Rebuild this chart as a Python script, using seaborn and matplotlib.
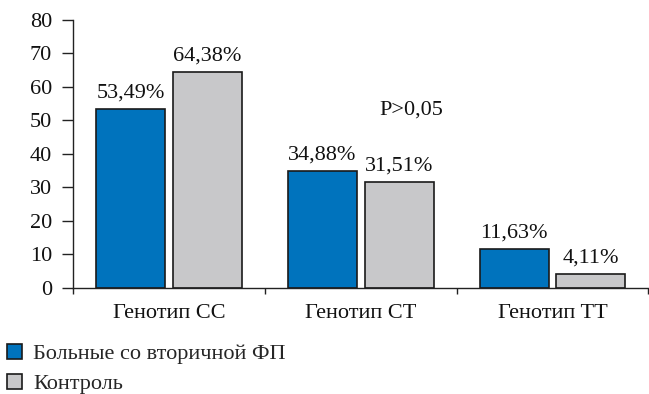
import matplotlib
matplotlib.use("Agg")
import matplotlib.pyplot as plt
import seaborn as sns
import pandas as pd

categories = ["Генотип CC", "Генотип CT", "Генотип TT"]
groups = ["Больные со вторичной ФП", "Контроль"]
patients = [53.49, 34.88, 11.63]
control = [64.38, 31.51, 4.11]
y_ticks = [0, 10, 20, 30, 40, 50, 60, 70, 80]
p_text = "P>0,05"

colors = ["#0073BD", "#C8C8CA"]

df = pd.DataFrame({
    "cat": categories * 2,
    "group": [groups[0]] * 3 + [groups[1]] * 3,
    "val": patients + control,
})

sns.set_theme(style="ticks")
plt.rcParams["font.family"] = ["Liberation Serif", "DejaVu Serif"]
plt.rcParams["axes.linewidth"] = 1.0

fs = 16
fig = plt.figure(figsize=(6.49, 3.94), dpi=100)
ax = fig.add_axes([73 / 649, 1 - 287.7 / 394, (648.5 - 73) / 649, (287.7 - 20) / 394])

sns.barplot(data=df, x="cat", y="val", hue="group", order=categories,
            hue_order=groups, palette=colors, width=0.8, gap=0.1,
            edgecolor="#1a1a1a", linewidth=1.2, saturation=1, ax=ax)

handles, labels = ax.get_legend_handles_labels()
if ax.get_legend() is not None:
    ax.get_legend().remove()

for cont, vals in zip(ax.containers, [patients, control]):
    labs = [f"{v:.2f}".replace(".", ",") + "%" for v in vals]
    ax.bar_label(cont, labels=labs, padding=4.5, fontsize=fs, color="#111111")

ax.text(1.266, 51.7, p_text, ha="center", va="baseline", fontsize=fs, color="#111111")

ax.set_xlim(-0.5, 2.5)
ax.set_ylim(0, 80)
ax.set_yticks(y_ticks)
ax.set_yticklabels([str(t) for t in y_ticks], fontsize=fs, color="#111111")
ax.set_xticks(range(len(categories)))
ax.set_xticklabels(categories, fontsize=fs, color="#111111")
ax.tick_params(axis="x", which="major", length=0, pad=11.5)
ax.set_xticks([-0.5, 0.5, 1.5, 2.5], minor=True)
ax.tick_params(axis="x", which="minor", length=4, width=1.0, direction="out", color="#222222")
ax.tick_params(axis="y", length=8, width=1.0, pad=7, color="#222222")
ax.set_xlabel("")
ax.set_ylabel("")
for s in ["top", "right"]:
    ax.spines[s].set_visible(False)
for s in ["left", "bottom"]:
    ax.spines[s].set_color("#222222")

leg = fig.legend(handles, labels, loc="upper left",
                 bbox_to_anchor=(7 / 649, 1 - 344 / 394),
                 frameon=False, fontsize=fs, borderpad=0, borderaxespad=0,
                 handlelength=0.68, handleheight=0.68, handletextpad=0.5,
                 labelspacing=0.42)
for h in leg.legend_handles:
    h.set_edgecolor("#1a1a1a")
    h.set_linewidth(1.2)

fig.savefig("out.png", dpi=100)
